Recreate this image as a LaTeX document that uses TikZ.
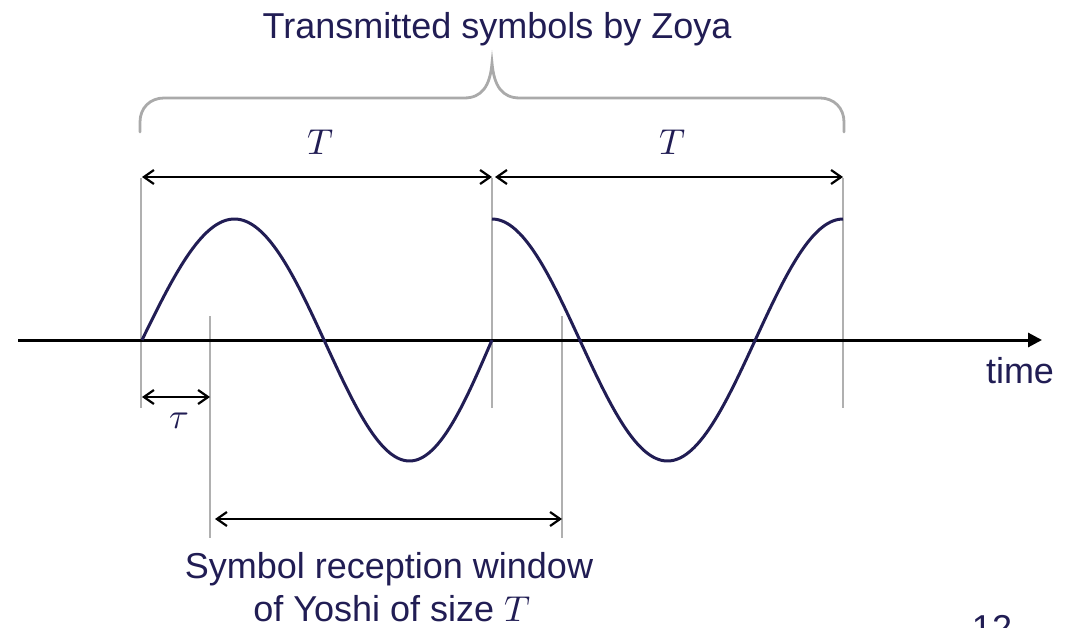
\documentclass[tikz,border=0pt]{standalone}
\usepackage{fontspec}
\usepackage{unicode-math}
\setmainfont{Liberation Sans}
\setmathfont{Latin Modern Math}
\usetikzlibrary{arrows.meta}
\definecolor{navy}{RGB}{33,29,84}
\definecolor{guide}{RGB}{176,176,176}
\definecolor{bracegray}{RGB}{170,170,170}
\tikzset{
  lbl/.style={text=navy, font=\fontsize{36}{43}\selectfont, inner sep=0pt},
  guideline/.style={draw=guide, line width=1.8pt},
  dimarrow/.style={draw=black, line width=2.2pt, {Straight Barb[length=10pt,width=14pt,line width=2.2pt]}-{Straight Barb[length=10pt,width=14pt,line width=2.2pt]}},
  wave/.style={draw=navy, line width=3pt},
  axis/.style={draw=black, line width=3pt, -{Triangle[length=14pt,width=14pt]}},
  bracestyle/.style={draw=bracegray, line width=2.8pt, line cap=round}
}
\begin{document}
\begin{tikzpicture}[x=1pt,y=-1pt]
\useasboundingbox (0,0) rectangle (1075,628);
% coordinates
\coordinate (a0) at (18,340);
\coordinate (a1) at (1042,340);
\coordinate (g1t) at (141,178); \coordinate (g1b) at (141,408);
\coordinate (g2t) at (492,178); \coordinate (g2b) at (492,408);
\coordinate (g3t) at (843,178); \coordinate (g3b) at (843,408);
\coordinate (w1t) at (210,316); \coordinate (w1b) at (210,538);
\coordinate (w2t) at (562,316); \coordinate (w2b) at (562,538);
\coordinate (bl) at (140,132); \coordinate (br) at (844,132);
\coordinate (btip) at (492,63);
% guide lines
\draw[guideline] (g1t) -- (g1b);
\draw[guideline] (g2t) -- (g2b);
\draw[guideline] (g3t) -- (g3b);
\draw[guideline] (w1t) -- (w1b);
\draw[guideline] (w2t) -- (w2b);
% brace
\draw[bracestyle] (bl) -- (140,122) .. controls (140,108) and (150,98) .. (164,98)
  -- (464,98) .. controls (482,98) and (490,86) .. (btip)
  .. controls (494,86) and (502,98) .. (520,98)
  -- (820,98) .. controls (834,98) and (844,108) .. (844,122) -- (br);
% axis
\draw[axis] (a0) -- (a1);
% waves
\draw[wave] plot[domain=0:350, samples=140, smooth] ({142+\x+7*sin(\x/350*180)},{340-121*sin(\x/350*360)});
\draw[wave] plot[domain=0:351, samples=140, smooth] ({492+\x},{340-121*cos(\x/351*360)});
% dimension arrows
\coordinate (t1a) at (142,177); \coordinate (t1b) at (492,177);
\coordinate (t2a) at (495,177); \coordinate (t2b) at (843,177);
\coordinate (ta) at (142,397); \coordinate (tb) at (210,397);
\coordinate (wa) at (215,519); \coordinate (wb) at (562,519);
\draw[dimarrow] (t1a) -- (t1b);
\draw[dimarrow] (t2a) -- (t2b);
\draw[dimarrow] (ta) -- (tb);
\draw[dimarrow] (wa) -- (wb);
% labels
\node[lbl, anchor=base] (title) at (497,39) {Transmitted symbols by Zoya};
\node[lbl, anchor=base] (T1) at (321,155) {$T$};
\node[lbl, anchor=base] (T2) at (673,155) {$T$};
\node[lbl, anchor=base] (tau) at (179,428) {$\tau$};
\node[lbl, anchor=base] (time) at (1020,383) {time};
\node[lbl, anchor=base] (rw1) at (389,578) {Symbol reception window};
\node[lbl, anchor=base] (rw2) at (392,621) {of Yoshi of size $T$};
\node[lbl, anchor=base] (page) at (992,640) {12};
\end{tikzpicture}
\end{document}
